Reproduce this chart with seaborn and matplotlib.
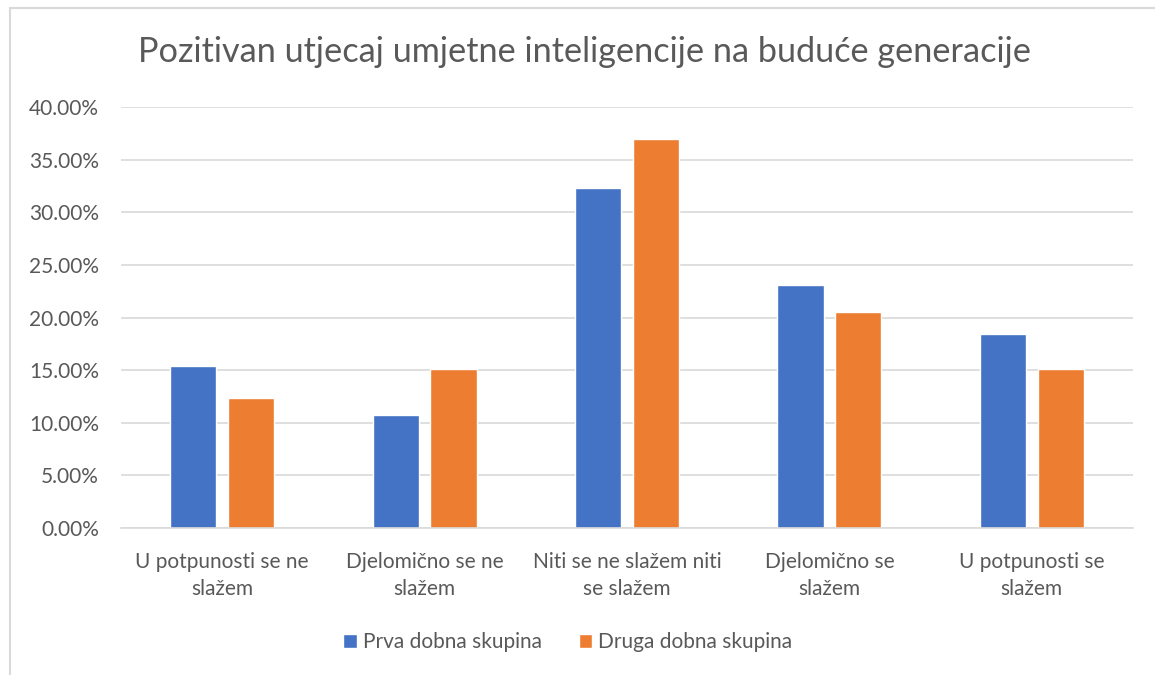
import pandas as pd
import matplotlib.pyplot as plt
import seaborn as sns
from matplotlib.patches import Rectangle
from matplotlib.ticker import FuncFormatter

kategorije = ["U potpunosti se ne\nslažem", "Djelomično se ne\nslažem", "Niti se ne slažem niti\nse slažem",
              "Djelomično se\nslažem", "U potpunosti se\nslažem"]
prva = [15.38, 10.77, 32.31, 23.08, 18.46]
druga = [12.33, 15.07, 36.99, 20.55, 15.07]
grupe = ["Prva dobna skupina", "Druga dobna skupina"]

df = pd.DataFrame({
    "kategorija": kategorije * 2,
    "postotak": prva + druga,
    "skupina": [grupe[0]] * 5 + [grupe[1]] * 5,
})

sns.set_theme(style="white")
plt.rcParams['font.family'] = ['Lato', 'DejaVu Sans']
siva = "#595959"

fig = plt.figure(figsize=(11.55, 6.75), dpi=100)
ax = fig.add_axes([121 / 1155, 1 - 528 / 675, 1012 / 1155, 421 / 675])

sns.barplot(data=df, x="kategorija", y="postotak", hue="skupina",
            palette=["#4472C4", "#ED7D31"], width=0.57, gap=0.2,
            saturation=1, ax=ax, legend=True)

ax.set_ylim(0, 40)
ax.set_yticks(range(0, 41, 5))
ax.yaxis.set_major_formatter(FuncFormatter(lambda v, p: f"{v:.2f}%"))
ax.grid(axis="y", color="#d9d9d9", linewidth=1.2)
ax.set_axisbelow(True)
for s in ["top", "right", "left"]:
    ax.spines[s].set_visible(False)
ax.spines["bottom"].set_color("#d9d9d9")
ax.spines["bottom"].set_linewidth(1.2)
ax.set_xlabel("")
ax.set_ylabel("")
ax.tick_params(axis="y", colors=siva, labelsize=15, length=0, pad=16)
ax.tick_params(axis="x", colors=siva, labelsize=15, length=0, pad=17)
for t in ax.get_xticklabels():
    t.set_linespacing(1.45)

ax.legend(loc="center", bbox_to_anchor=(568 / 1155, 1 - 642 / 675), bbox_transform=fig.transFigure,
          ncol=2, frameon=False, fontsize=15, labelcolor=siva, handlelength=0.65, handleheight=0.65,
          handletextpad=0.3, columnspacing=1.75)

fig.text(585 / 1155, 1 - 52 / 675, "Pozitivan utjecaj umjetne inteligencije na buduće generacije",
         ha="center", va="center", fontsize=24.7, color=siva)

fig.patches.append(Rectangle((10 / 1155, -0.1), 1.2, 1 - 8 / 675 + 0.1, transform=fig.transFigure,
                             fill=False, edgecolor="#d9d9d9", linewidth=1.5))

fig.savefig("out.png", dpi=100)
